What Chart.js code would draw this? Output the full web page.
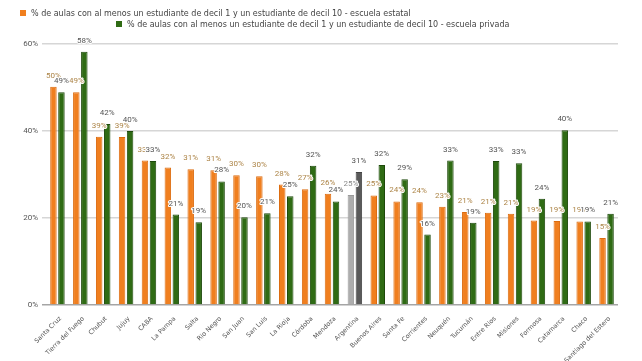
<!DOCTYPE html>
<html lang="es">
<head>
<meta charset="utf-8">
<title>Aulas con estudiantes de decil 1 y decil 10</title>
<script src="https://cdn.jsdelivr.net/npm/chart.js@4.4.1/dist/chart.umd.min.js"></script>
<style>
  html, body { margin: 0; padding: 0; background: #fff; }
  #contenedor { position: relative; width: 642px; height: 361px; }
  .leyenda {
    position: absolute; display: flex; align-items: center; height: 10px;
    font: 8px "DejaVu Sans", sans-serif; color: #444; white-space: nowrap;
  }
  .leyenda span { display: inline-block; width: 6px; height: 6px; margin-right: 5px; }
</style>
</head>
<body>
<div id="contenedor">
  <div class="leyenda" style="left:20px; top:8px;"><span style="background:#f07f1f"></span>% de aulas con al menos un estudiante de decil 1 y un estudiante de decil 10 - escuela estatal</div>
  <div class="leyenda" style="left:116px; top:19px;"><span style="background:#2f6b14"></span>% de aulas con al menos un estudiante de decil 1 y un estudiante de decil 10 - escuela privada</div>
  <canvas id="grafico" width="642" height="361"></canvas>
</div>
<script>
const provincias = [
  "Santa Cruz", "Tierra del Fuego", "Chubut", "Jujuy", "CABA", "La Pampa", "Salta",
  "Rio Negro", "San Juan", "San Luis", "La Rioja", "Córdoba", "Mendoza", "Argentina",
  "Buenos Aires", "Santa Fe", "Corrientes", "Neuquén", "Tucumán", "Entre Rios",
  "Misiones", "Formosa", "Catamarca", "Chaco", "Santiago del Estero"
];

const estatal = [
  50.2, 48.9, 38.7, 38.6, 33.2, 31.6, 31.2, 31.0, 29.8, 29.6, 27.7, 26.6, 25.6,
  25.3, 25.2, 23.8, 23.6, 22.6, 21.4, 21.2, 21.0, 19.4, 19.3, 19.2, 15.4
];

const privada = [
  48.9, 58.2, 41.6, 40.0, 33.1, 20.8, 19.0, 28.4, 20.2, 21.1, 25.0, 32.0, 23.8,
  30.6, 32.2, 28.9, 16.2, 33.2, 18.9, 33.1, 32.6, 24.4, 40.2, 19.2, 21.0
];

const ticksY = [0, 20, 40, 60];

const NARANJA = "#f07f1f";
const VERDE = "#2f6b14";
const GRIS_CLARO = "#adadad";
const GRIS_OSCURO = "#5a5a5a";

const esPais = provincias.map(p => p === "Argentina");

const etiquetasValores = {
  id: "etiquetasValores",
  afterDatasetsDraw(chart) {
    const ctx = chart.ctx;
    ctx.save();
    ctx.font = "8px Roboto";
    ctx.textAlign = "center";
    ctx.textBaseline = "middle";
    ctx.lineWidth = 2;
    ctx.lineJoin = "round";
    ctx.strokeStyle = "#fff";
    chart.data.datasets.forEach((ds, i) => {
      chart.getDatasetMeta(i).data.forEach((barra, j) => {
        const texto = Math.round(ds.data[j]) + "%";
        const y = barra.y - 11;
        ctx.strokeText(texto, barra.x, y);
        ctx.fillStyle = ds.colorEtiqueta[j];
        ctx.fillText(texto, barra.x, y);
      });
    });
    ctx.restore();
  }
};

new Chart(document.getElementById("grafico"), {
  type: "bar",
  data: {
    labels: provincias,
    datasets: [{
      label: "% de aulas con al menos un estudiante de decil 1 y un estudiante de decil 10 - escuela estatal",
      data: estatal,
      backgroundColor: esPais.map(a => a ? GRIS_CLARO : NARANJA),
      borderColor: esPais.map(a => a ? "#9a9a9a" : "#dc6c10"),
      borderWidth: 1,
      colorEtiqueta: esPais.map(a => a ? "#8a8a8a" : "#ad8548"),
      categoryPercentage: 0.7,
      barPercentage: 0.81
    }, {
      label: "% de aulas con al menos un estudiante de decil 1 y un estudiante de decil 10 - escuela privada",
      data: privada,
      backgroundColor: esPais.map(a => a ? GRIS_OSCURO : VERDE),
      borderColor: esPais.map(a => a ? "#444" : "#1e4a0b"),
      borderWidth: 1,
      colorEtiqueta: esPais.map(() => "#555"),
      categoryPercentage: 0.7,
      barPercentage: 0.81
    }]
  },
  options: {
    responsive: false,
    animation: false,
    layout: { padding: { top: 44, right: 24, bottom: 0, left: 0 } },
    plugins: {
      legend: { display: false },
      tooltip: { enabled: false }
    },
    scales: {
      x: {
        grid: { display: false },
        border: { display: false },
        ticks: {
          autoSkip: false,
          minRotation: 45,
          maxRotation: 45,
          padding: 2,
          labelOffset: 3,
          color: "#555",
          font: { family: "DejaVu Sans", size: 6.4 }
        },
        afterFit(scale) { scale.height = 56; }
      },
      y: {
        min: 0,
        max: 60,
        afterBuildTicks(scale) { scale.ticks = ticksY.map(v => ({ value: v })); },
        grid: {
          color: c => c.tick && c.tick.value === 0 ? "#a5a5a5" : "#d6d6d6",
          lineWidth: 1.5,
          tickLength: 4
        },
        border: { display: false },
        ticks: {
          padding: 4,
          color: "#555",
          font: { family: "Roboto", size: 8 },
          callback: v => v + "%"
        },
        afterFit(scale) { scale.width = 46; }
      }
    }
  },
  plugins: [etiquetasValores]
});
</script>
</body>
</html>
